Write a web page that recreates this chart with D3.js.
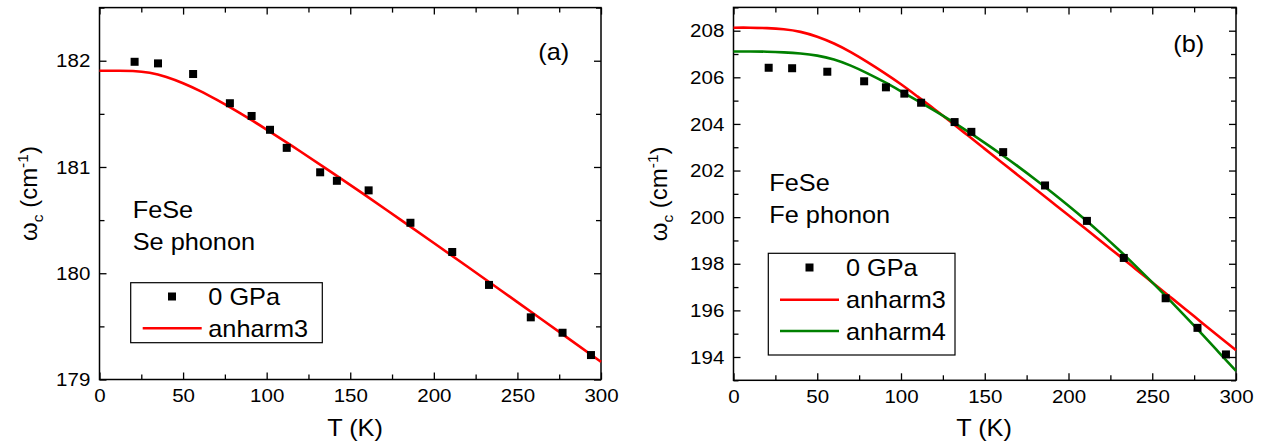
<!DOCTYPE html>
<html>
<head>
<meta charset="utf-8">
<script src="https://cdn.jsdelivr.net/npm/d3@7/dist/d3.min.js"></script>
<style>
html,body{margin:0;padding:0;background:#fff;}
svg{display:block;}
text{font-family:"Liberation Sans",Arial,sans-serif;fill:#000;}
</style>
</head>
<body>
<svg id="chart" width="1261" height="443"></svg>
<script>
// ---------- data ----------
const tempA = [21, 35, 56, 78, 91, 102, 112, 132, 142, 161, 186, 211, 233, 258, 277, 294];
const omegaA = [181.99, 181.975, 181.875, 181.60, 181.48, 181.35, 181.18, 180.95, 180.87, 180.78, 180.475, 180.20, 179.89, 179.585, 179.44, 179.23];
const fitTA = [0,10,20,30,40,50,60,70,80,90,100,120,140,160,180,200,220,240,260,280,300];
const anharm3A = [181.906,181.906,181.904,181.887,181.847,181.788,181.716,181.633,181.544,181.450,181.352,181.148,180.938,180.723,180.505,180.285,180.063,179.840,179.616,179.392,179.166];

const tempB = [21, 35, 56, 78, 91, 102, 112, 132, 142, 161, 186, 211, 233, 258, 277, 294];
const omegaB = [206.41, 206.39, 206.24, 205.83, 205.57, 205.30, 204.91, 204.08, 203.66, 202.79, 201.36, 199.84, 198.25, 196.52, 195.25, 194.11];
const fitTB = [0,10,20,30,40,50,60,70,80,90,100,110,120,130,140,150,160,170,180,190,200,210,220,230,240,250,260,270,280,290,300];
const anharm3B = [208.13,208.13,208.11,208.06,207.95,207.74,207.45,207.08,206.65,206.19,205.70,205.17,204.63,204.07,203.50,202.93,202.36,201.79,201.22,200.65,200.08,199.51,198.93,198.36,197.78,197.20,196.62,196.04,195.45,194.87,194.29];
const anharm4B = [207.11,207.11,207.10,207.07,207.02,206.93,206.76,206.50,206.17,205.80,205.40,204.99,204.57,204.13,203.67,203.19,202.69,202.17,201.63,201.07,200.49,199.89,199.26,198.60,197.91,197.20,196.47,195.72,194.96,194.18,193.40];

const xTicks = [0, 50, 100, 150, 200, 250, 300];
const xMinor = [25, 75, 125, 175, 225, 275];
const yTicksA = [179, 180, 181, 182];
const yMinorA = [179.5, 180.5, 181.5, 182.5];
const yTicksB = [194, 196, 198, 200, 202, 204, 206, 208];
const yMinorB = [193, 195, 197, 199, 201, 203, 205, 207, 209];

const legendA = ["0 GPa", "anharm3"];
const legendB = ["0 GPa", "anharm3", "anharm4"];

// ---------- drawing ----------
const svg = d3.select("#chart");
const RED = "#ff0000", GREEN = "#008000";
const SX = 1.1;
const FS = 23;

function stext(g, str, x, y, size, sx, anchor) {
  return g.append("text")
    .attr("transform", `translate(${x},${y}) scale(${sx},1)`)
    .attr("font-size", size)
    .attr("text-anchor", anchor || "start")
    .text(str);
}

function panel(cfg) {
  const x = d3.scaleLinear().domain([0, 300]).range(cfg.xr);
  const y = d3.scaleLinear().domain(cfg.yd).range(cfg.yr);
  const g = svg.append("g");
  const [x0, x1] = cfg.xr, [y0, y1] = cfg.yr;

  function styleAxis(a, labels) {
    a.select(".domain").remove();
    a.selectAll("line").attr("stroke", "#000").attr("stroke-width", 1.3);
    if (labels) {
      a.selectAll("text").attr("font-size", 19).attr("font-family", '"Liberation Sans",Arial,sans-serif').attr("fill", "#000");
    }
  }
  // bottom
  g.append("g").attr("transform", `translate(0,${y0})`)
    .call(d3.axisBottom(x).tickValues(xTicks).tickSize(-7).tickPadding(9).tickFormat(d3.format("d")))
    .call(a => { styleAxis(a, true); a.selectAll("text").attr("transform", "scale(1.08,1)").attr("dy", "0.71em"); });
  g.append("g").attr("transform", `translate(0,${y0})`)
    .call(d3.axisBottom(x).tickValues(xMinor).tickSize(-5).tickFormat(""))
    .call(a => styleAxis(a, false));
  // top
  g.append("g").attr("transform", `translate(0,${y1})`)
    .call(d3.axisTop(x).tickValues(xTicks).tickSize(-7).tickFormat(""))
    .call(a => styleAxis(a, false));
  g.append("g").attr("transform", `translate(0,${y1})`)
    .call(d3.axisTop(x).tickValues(xMinor).tickSize(-5).tickFormat(""))
    .call(a => styleAxis(a, false));
  // left
  g.append("g").attr("transform", `translate(${x0},0)`)
    .call(d3.axisLeft(y).tickValues(cfg.yt).tickSize(-7).tickPadding(8.5).tickFormat(d3.format("d")))
    .call(a => { styleAxis(a, true); a.selectAll("text").attr("transform", "scale(1.08,1)"); });
  g.append("g").attr("transform", `translate(${x0},0)`)
    .call(d3.axisLeft(y).tickValues(cfg.ym).tickSize(-5).tickFormat(""))
    .call(a => styleAxis(a, false));
  // right
  g.append("g").attr("transform", `translate(${x1},0)`)
    .call(d3.axisRight(y).tickValues(cfg.yt).tickSize(-7).tickFormat(""))
    .call(a => styleAxis(a, false));
  g.append("g").attr("transform", `translate(${x1},0)`)
    .call(d3.axisRight(y).tickValues(cfg.ym).tickSize(-5).tickFormat(""))
    .call(a => styleAxis(a, false));

  // frame
  g.append("rect").attr("x", x0).attr("y", y1).attr("width", x1 - x0).attr("height", y0 - y1)
    .attr("fill", "none").attr("stroke", "#000").attr("stroke-width", 1.5);

  // fit curves
  const line = d3.line().x(d => x(d[0])).y(d => y(d[1])).curve(d3.curveNatural);
  cfg.curves.forEach(c => {
    g.append("path").datum(c.t.map((t, i) => [t, c.v[i]]))
      .attr("d", line).attr("fill", "none").attr("stroke", c.color).attr("stroke-width", 2.6);
  });

  // data points
  g.selectAll(null).data(cfg.pt.map((t, i) => [t, cfg.pv[i]])).enter().append("rect")
    .attr("x", d => x(d[0]) - 4).attr("y", d => y(d[1]) - 4)
    .attr("width", 8).attr("height", 8).attr("fill", "#000");

  // axis titles
  stext(g, "T (K)", cfg.xtitle[0], cfg.xtitle[1], FS, SX, "middle");
  const yt = g.append("text")
    .attr("transform", `translate(${cfg.ytitle[0]},${(y0 + y1) / 2}) rotate(-90)`)
    .attr("font-size", 24).attr("text-anchor", "middle");
  yt.append("tspan").text("ω");
  yt.append("tspan").attr("font-size", 15.5).attr("dy", 6).text("c");
  yt.append("tspan").attr("dy", -6).text(" (cm");
  yt.append("tspan").attr("font-size", 15.5).attr("dy", -9).text("-1");
  yt.append("tspan").attr("dy", 9).text(")");

  // annotation
  cfg.notes.forEach(n => stext(g, n[0], n[1], n[2], FS, SX));

  // legend
  const L = cfg.legend;
  g.append("rect").attr("x", L.box[0]).attr("y", L.box[1]).attr("width", L.box[2]).attr("height", L.box[3])
    .attr("fill", "#fff").attr("stroke", "#000").attr("stroke-width", 1.2);
  L.items.forEach((it, i) => {
    const rowY = L.rows[i];
    if (it.type === "sym") {
      g.append("rect").attr("x", L.sym - 4).attr("y", rowY - 4).attr("width", 8).attr("height", 8).attr("fill", "#000");
    } else {
      g.append("line").attr("x1", L.line[0]).attr("x2", L.line[1]).attr("y1", rowY).attr("y2", rowY)
        .attr("stroke", it.color).attr("stroke-width", 2.6);
    }
    stext(g, it.label, L.tx, rowY + 8.5, FS, SX);
  });
}

panel({
  xr: [99.5, 601], yd: [179, 182.5], yr: [379.5, 7.6],
  yt: yTicksA, ym: yMinorA,
  pt: tempA, pv: omegaA,
  curves: [{t: fitTA, v: anharm3A, color: RED}],
  xtitle: [355, 436], ytitle: [37],
  notes: [["FeSe", 132.7, 218.3], ["Se phonon", 132.7, 250], ["(a)", 538.3, 59.5]],
  legend: {box: [130.7, 282.7, 191.6, 60], sym: 172, line: [142.7, 201.7], tx: 208.3,
    rows: [296.5, 328.3],
    items: [{type: "sym", label: legendA[0]}, {type: "line", color: RED, label: legendA[1]}]}
});

panel({
  xr: [733.5, 1236], yd: [193, 209], yr: [380.3, 7.4],
  yt: yTicksB, ym: yMinorB,
  pt: tempB, pv: omegaB,
  curves: [{t: fitTB, v: anharm3B, color: RED}, {t: fitTB, v: anharm4B, color: GREEN}],
  xtitle: [984, 436], ytitle: [667],
  notes: [["FeSe", 769.3, 190.7], ["Fe phonon", 769.3, 222.7], ["(b)", 1173.3, 51.7]],
  legend: {box: [768.3, 253.3, 186.7, 101.7], sym: 809.5, line: [780, 839], tx: 846,
    rows: [267.5, 299.8, 331],
    items: [{type: "sym", label: legendB[0]}, {type: "line", color: RED, label: legendB[1]}, {type: "line", color: GREEN, label: legendB[2]}]}
});
</script>
</body>
</html>
